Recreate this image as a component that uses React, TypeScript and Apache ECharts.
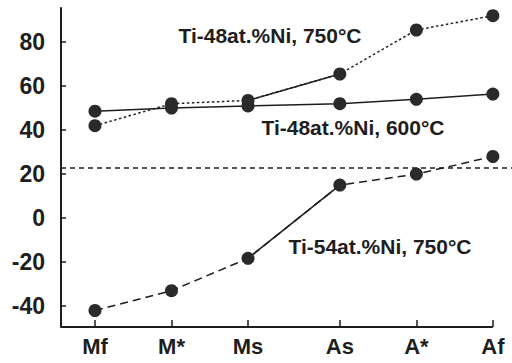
import React, { useEffect, useRef } from "react";
import * as echarts from "echarts";

const categories = ["Mf", "M*", "Ms", "As", "A*", "Af"];
const categoryPositions = [1, 2, 3, 4.2, 5.2, 6.2];
const ti48at750 = [42, 52, 53.5, 65.5, 85.5, 92];
const ti48at600 = [48.6, 50, 51, 52, 54, 56.4];
const ti54at750 = [-42, -33, -18.3, 15, 20, 28];
const solidSegment = [2, 3];
const referenceLevel = 23;
const yTicks = [-40, -20, 0, 20, 40, 60, 80];
const seriesLabels = ["Ti-48at.%Ni, 750°C", "Ti-48at.%Ni, 600°C", "Ti-54at.%Ni, 750°C"];

const X_MIN = 0.556;
const X_MAX = 6.45;
const Y_MIN = -49.5;
const Y_MAX = 95.5;

const INK = "#1e1e1e";
const DOT = "#2a2a2a";
const FONT = "Liberation Sans, Arial, sans-serif";

const toPairs = (vals: number[]) => categoryPositions.map((x, i) => [x, vals[i]]);
const segment = (vals: number[]) => solidSegment.map((i) => [categoryPositions[i], vals[i]]);

export default function App() {
  const ref = useRef<HTMLDivElement>(null);
  useEffect(() => {
    if (!ref.current) return;
    const chart = echarts.init(ref.current, null, { renderer: "svg" });
    const dotStyle = { color: DOT };
    const labelStyle = (text: string) => ({
      text,
      font: `bold 21px ${FONT}`,
      fill: INK,
      align: "center",
      verticalAlign: "middle",
    });
    chart.setOption({
      animation: false,
      backgroundColor: "#ffffff",
      grid: { left: 61, right: 0, top: 8, bottom: 36 },
      xAxis: {
        type: "value",
        min: X_MIN,
        max: X_MAX,
        axisLine: { show: false, onZero: false },
        splitLine: { show: false },
        axisTick: {
          show: true,
          inside: true,
          length: 7,
          customValues: categoryPositions,
          lineStyle: { color: INK, width: 1.5 },
        },
        axisLabel: {
          customValues: categoryPositions,
          formatter: (v: number) => {
            const i = categoryPositions.findIndex((p) => Math.abs(p - v) < 1e-6);
            return i >= 0 ? categories[i] : "";
          },
          margin: 8,
          fontSize: 22,
          fontWeight: "bold",
          fontFamily: FONT,
          color: INK,
        },
      },
      yAxis: {
        type: "value",
        min: Y_MIN,
        max: Y_MAX,
        splitLine: { show: false },
        axisLine: { show: true, onZero: false, lineStyle: { color: INK, width: 2 } },
        axisTick: {
          show: true,
          inside: true,
          length: 5,
          customValues: yTicks,
          lineStyle: { color: INK, width: 1.5 },
        },
        axisLabel: {
          customValues: yTicks,
          margin: 16,
          fontSize: 23,
          fontWeight: "bold",
          fontFamily: FONT,
          color: INK,
        },
      },
      series: [
        {
          name: "Ti-48 600",
          type: "line",
          data: toPairs(ti48at600),
          symbol: "circle",
          symbolSize: 13,
          itemStyle: dotStyle,
          lineStyle: { color: INK, width: 1.5, type: "solid" },
          z: 3,
        },
        {
          name: "Ti-48 750",
          type: "line",
          data: toPairs(ti48at750),
          symbol: "circle",
          symbolSize: 13,
          itemStyle: dotStyle,
          lineStyle: { color: INK, width: 1.5, type: [2.5, 2.5] },
          z: 3,
        },
        {
          name: "Ti-48 750 solid",
          type: "line",
          data: segment(ti48at750),
          symbol: "none",
          lineStyle: { color: INK, width: 1.5, type: "solid" },
          z: 2,
        },
        {
          name: "Ti-54 750",
          type: "line",
          data: toPairs(ti54at750),
          symbol: "circle",
          symbolSize: 13,
          itemStyle: dotStyle,
          lineStyle: { color: INK, width: 1.5, type: [8, 5] },
          z: 3,
          clip: false,
          markLine: {
            silent: true,
            symbol: "none",
            label: { show: false },
            data: [
              [
                { coord: [X_MIN, referenceLevel] },
                { coord: [X_MAX, referenceLevel] },
              ],
              [
                { coord: [X_MIN, Y_MIN], lineStyle: { type: "solid", width: 2, color: INK } },
                { coord: [categoryPositions[categoryPositions.length - 1], Y_MIN] },
              ],
            ],
            lineStyle: { color: INK, width: 1.5, type: [5, 4] },
          },
        },
        {
          name: "Ti-54 750 solid",
          type: "line",
          data: segment(ti54at750),
          symbol: "none",
          lineStyle: { color: INK, width: 1.5, type: "solid" },
          z: 2,
        },
      ],
      graphic: [
        { type: "text", x: 270, y: 35, style: labelStyle(seriesLabels[0]) },
        { type: "text", x: 353, y: 127, style: labelStyle(seriesLabels[1]) },
        { type: "text", x: 380, y: 246, style: labelStyle(seriesLabels[2]) },
      ],
    });
    return () => chart.dispose();
  }, []);
  return (
    <div
      ref={ref}
      style={{ position: "fixed", left: 0, top: 0, width: 512, height: 363, background: "#fff" }}
    />
  );
}
